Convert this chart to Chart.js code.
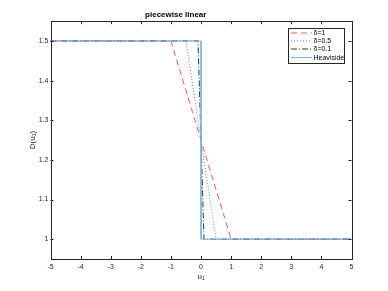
<!DOCTYPE html>
<html>
<head>
<meta charset="utf-8">
<script src="https://cdn.jsdelivr.net/npm/chart.js@4.4.1/dist/chart.umd.min.js"></script>
<style>
  html, body { margin: 0; padding: 0; background: #fff; }
  #wrap { width: 388px; height: 291px; }
</style>
</head>
<body>
<div id="wrap"><canvas id="lineChart"></canvas></div>
<script>
// series data (u1, D(u1))
const seriesNames = ["\u03b4=1", "\u03b4=0.5", "\u03b4=0.1", "Heaviside"];
const delta1X = [-5, -1, 1, 5];
const delta1Y = [1.5, 1.5, 1, 1];
const delta05X = [-5, -0.5, 0.5, 5];
const delta05Y = [1.5, 1.5, 1, 1];
const delta01X = [-5, -0.1, 0.1, 5];
const delta01Y = [1.5, 1.5, 1, 1];
const heavisideX = [-5, 0, 0, 5];
const heavisideY = [1.5, 1.5, 1, 1];

const xTicks = [-5, -4, -3, -2, -1, 0, 1, 2, 3, 4, 5];
const yTicks = [1, 1.1, 1.2, 1.3, 1.4, 1.5];

const FONT = "Helvetica, Arial, 'Liberation Sans', sans-serif";

function toPoints(xs, ys) {
    return xs.map((x, i) => ({ x: x, y: ys[i] }));
}

// line styles for each series
const styles = [
    { color: "#ff5a5a", dash: [6, 4] },
    { color: "#7070ff", dash: [1, 2] },
    { color: "#333333", dash: [6, 2, 1, 2] },
    { color: "#78b6e6", dash: [] }
];

const seriesData = [
    toPoints(delta1X, delta1Y),
    toPoints(delta05X, delta05Y),
    toPoints(delta01X, delta01Y),
    toPoints(heavisideX, heavisideY)
];

// box, inner ticks and legend, matlab style
const framePlugin = {
    id: "frame",
    afterDraw(chart) {
        const { ctx, chartArea: a, scales } = chart;
        ctx.save();
        ctx.strokeStyle = "#262626";
        ctx.lineWidth = 1;
        ctx.setLineDash([]);
        ctx.strokeRect(Math.round(a.left) + 0.5, Math.round(a.top) + 0.5,
            Math.round(a.right - a.left), Math.round(a.bottom - a.top));

        const tl = 3;
        ctx.beginPath();
        xTicks.forEach(v => {
            const px = Math.round(scales.x.getPixelForValue(v)) + 0.5;
            ctx.moveTo(px, a.bottom); ctx.lineTo(px, a.bottom - tl);
            ctx.moveTo(px, a.top); ctx.lineTo(px, a.top + tl);
        });
        yTicks.forEach(v => {
            const py = Math.round(scales.y.getPixelForValue(v)) + 0.5;
            ctx.moveTo(a.left, py); ctx.lineTo(a.left + tl, py);
            ctx.moveTo(a.right, py); ctx.lineTo(a.right - tl, py);
        });
        ctx.stroke();

        // legend box
        const lx = 288.5, ly = 28.5, lw = 56, lh = 35;
        ctx.fillStyle = "#fff";
        ctx.fillRect(lx, ly, lw, lh);
        ctx.strokeStyle = "#262626";
        ctx.strokeRect(lx, ly, lw, lh);
        ctx.font = "7px " + FONT;
        ctx.textBaseline = "middle";
        ctx.fillStyle = "#000";
        const rows = [33, 41, 49, 57.5];
        seriesNames.forEach((name, i) => {
            ctx.strokeStyle = styles[i].color;
            ctx.setLineDash(styles[i].dash);
            ctx.beginPath();
            ctx.moveTo(291, rows[i]);
            ctx.lineTo(312, rows[i]);
            ctx.stroke();
            ctx.setLineDash([]);
            ctx.fillText(name, 313.5, rows[i] + 0.5);
        });
        ctx.restore();
    }
};

const ctx = document.getElementById("lineChart").getContext("2d");
const lineChart = new Chart(ctx, {
    type: "line",
    data: {
        datasets: seriesData.map((pts, i) => ({
            label: seriesNames[i],
            data: pts,
            borderColor: styles[i].color,
            borderDash: styles[i].dash,
            borderWidth: 1,
            pointRadius: 0,
            fill: false,
            tension: 0,
            order: i === 3 ? 0 : 4 - i
        }))
    },
    options: {
        responsive: true,
        maintainAspectRatio: false,
        animation: false,
        layout: { padding: { left: 0, right: 36.5, top: 0, bottom: 0 } },
        plugins: {
            legend: { display: false },
            tooltip: { enabled: false },
            title: {
                display: true,
                text: "piecewise linear",
                color: "#000",
                font: { family: FONT, size: 8, weight: "bold" },
                padding: { top: 10, bottom: 1.5 }
            }
        },
        scales: {
            x: {
                type: "linear",
                min: -5,
                max: 5,
                afterBuildTicks(scale) {
                    scale.ticks = xTicks.map(v => ({ value: v }));
                },
                afterFit(scale) { scale.height = 32; },
                grid: { display: false, drawTicks: false },
                border: { display: false },
                ticks: {
                    color: "#262626",
                    padding: 4,
                    maxRotation: 0,
                    font: { family: FONT, size: 7 }
                },
                title: {
                    display: true,
                    text: "u\u2081",
                    color: "#262626",
                    font: { family: FONT, size: 8 },
                    padding: { top: 0, bottom: 9.5 }
                }
            },
            y: {
                type: "linear",
                min: 0.95,
                max: 1.55,
                afterBuildTicks(scale) {
                    scale.ticks = yTicks.map(v => ({ value: v }));
                },
                afterFit(scale) { scale.width = 50.5; },
                grid: { display: false, drawTicks: false },
                border: { display: false },
                ticks: {
                    color: "#262626",
                    padding: 2,
                    font: { family: FONT, size: 7 },
                    callback: v => String(Math.round(v * 10) / 10)
                },
                title: {
                    display: true,
                    text: "D(u\u2081)",
                    color: "#262626",
                    font: { family: FONT, size: 8 },
                    padding: { top: 28, bottom: 0 }
                }
            }
        }
    },
    plugins: [framePlugin]
});
</script>
</body>
</html>
